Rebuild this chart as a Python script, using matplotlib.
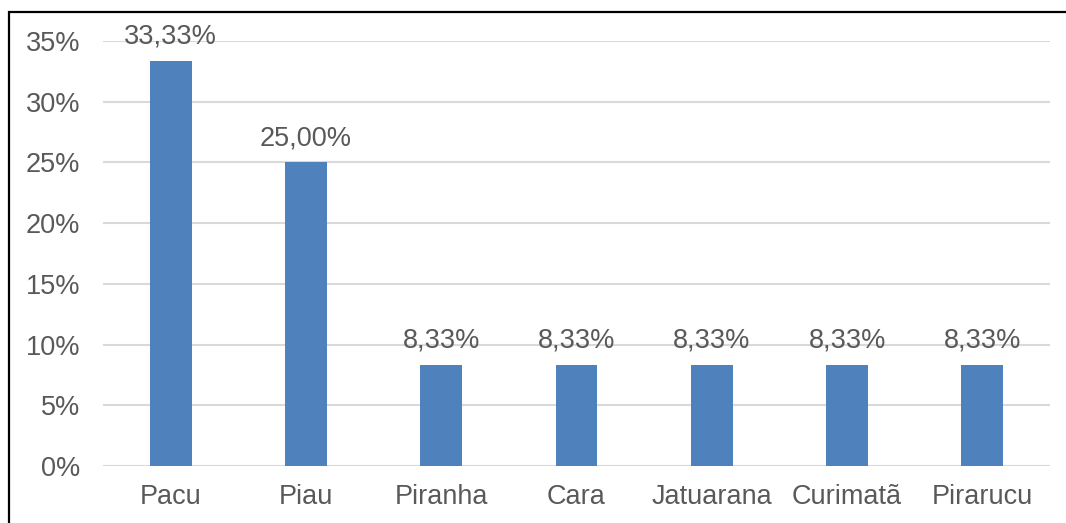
import matplotlib.pyplot as plt
from matplotlib.patches import Rectangle
from matplotlib.ticker import FuncFormatter

# Share of each fish species
species = ['Pacu', 'Piau', 'Piranha', 'Cara', 'Jatuarana', 'Curimatã', 'Pirarucu']
shares = [33.33, 25.00, 8.33, 8.33, 8.33, 8.33, 8.33]
y_ticks = [0, 5, 10, 15, 20, 25, 30, 35]

plt.rcParams['font.family'] = ['Liberation Sans', 'DejaVu Sans']
text_color = '#595959'
fsize = 19.5

fig = plt.figure(figsize=(10.66, 5.23), dpi=100)
ax = fig.add_axes([103 / 1066, 1 - 466 / 523, 947 / 1066, 425 / 523])

x = range(len(species))
ax.bar(x, shares, width=0.31, color='#4F81BD', zorder=3)

for xi, v in zip(x, shares):
    ax.annotate(f'{v:.2f}%'.replace('.', ','), (xi, v), xytext=(0, 12.5),
                textcoords='offset points', ha='center', va='baseline',
                fontsize=fsize, color=text_color, zorder=4)

ax.set_xlim(-0.5, len(species) - 0.5)
ax.set_ylim(0, 35)
ax.set_yticks(y_ticks)
ax.yaxis.set_major_formatter(FuncFormatter(lambda v, p: f'{v:.0f}%'))
ax.set_xticks(list(x))
ax.set_xticklabels(species)

ax.grid(axis='y', color='#D9D9D9', linewidth=1.5, zorder=0)
ax.tick_params(axis='both', length=0, labelsize=fsize, labelcolor=text_color)
ax.tick_params(axis='y', pad=16.5)
ax.tick_params(axis='x', pad=13)
for side in ax.spines.values():
    side.set_visible(False)

# outer frame, only top and left edges fall inside the image
fig.patches.append(Rectangle((9 / 1066, -0.1), 1.2, 1.1 - 12.5 / 523,
                             transform=fig.transFigure, fill=False,
                             edgecolor='black', linewidth=1.6))

fig.savefig('out.png', dpi=100)
